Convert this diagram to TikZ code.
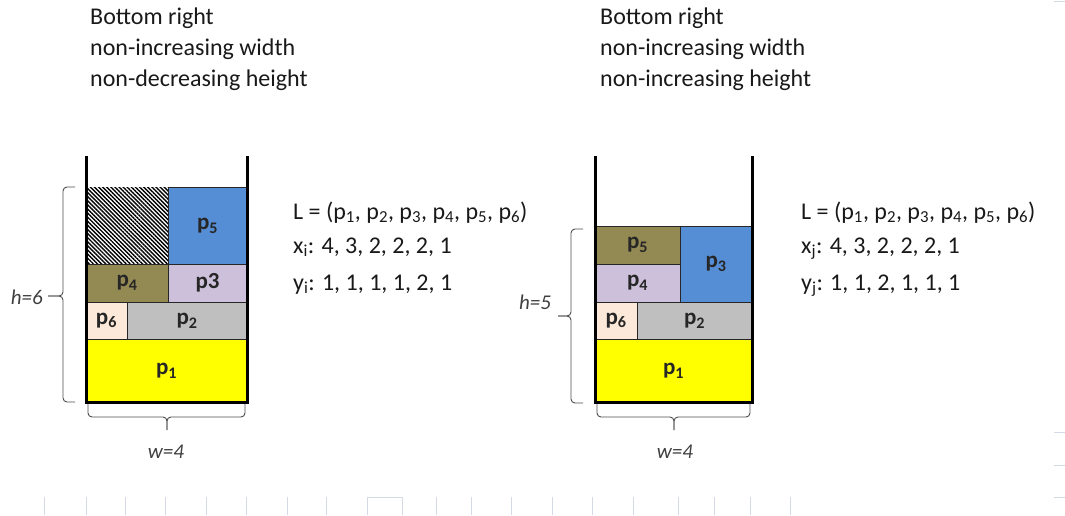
\documentclass[tikz,border=0pt]{standalone}
\usepackage{fontspec}
\setmainfont{Carlito}
\usetikzlibrary{patterns.meta}
\definecolor{cyellow}{HTML}{FFFF00}
\definecolor{cgray}{HTML}{BFBFBF}
\definecolor{cpeach}{HTML}{FDE9D9}
\definecolor{colive}{HTML}{938953}
\definecolor{clilac}{HTML}{CCC0DA}
\definecolor{cblue}{HTML}{558ED5}
\definecolor{cghost}{HTML}{D5D9E6}
\tikzset{
  blk/.style={draw=black!85, line width=0.8pt},
  lbl/.style={font=\fontsize{23}{27}\selectfont\bfseries, text=black!85, inner sep=0pt},
  txt/.style={font=\fontsize{24}{28}\selectfont, text=black!90, anchor=base west, inner sep=0pt},
  wall/.style={line width=3pt, line join=miter},
  brc/.style={draw=black!70, line width=0.9pt, rounded corners=4pt},
  dim/.style={font=\fontsize{21}{25}\selectfont\itshape, text=black!75, inner sep=0pt},
  ghost/.style={draw=cghost, line width=1pt}
}
\newcommand{\pp}[1]{p\textsubscript{#1}}
\begin{document}
\begin{tikzpicture}[x=1pt, y=-1pt]
  \useasboundingbox (0,0) rectangle (1065,515);
  % headings
  \node[txt] (hdA1) at (90,24) {Bottom right};
  \node[txt] (hdA2) at (90,55) {non-increasing width};
  \node[txt] (hdA3) at (90,86) {non-decreasing height};
  \node[txt] (hdB1) at (600,24) {Bottom right};
  \node[txt] (hdB2) at (600,55) {non-increasing width};
  \node[txt] (hdB3) at (600,86) {non-increasing height};
  % left strip: empty part hatched
  \fill[pattern={Lines[angle=-45, distance=2.9pt, line width=1.4pt]}] (86,187) rectangle (168,264);
  \draw[blk, fill=cyellow] (86,339) rectangle (247,402) node[lbl, pos=.5] (la1) {\pp{1}};
  \draw[blk, fill=cpeach] (86,302) rectangle (127,339) node[lbl, pos=.5] (la6) {\pp{6}};
  \draw[blk, fill=cgray] (127,302) rectangle (247,339) node[lbl, pos=.5] (la2) {\pp{2}};
  \draw[blk, fill=colive] (86,264) rectangle (168,302) node[lbl, pos=.5] (la4) {\pp{4}};
  \draw[blk, fill=clilac] (168,264) rectangle (247,302) node[lbl, pos=.5] (la3) {p3};
  \draw[blk, fill=cblue] (168,187) rectangle (247,264) node[lbl, pos=.5] (la5) {\pp{5}};
  \draw[wall] (86,156) -- (86,402) -- (247,402) -- (247,156);
  % right strip
  \draw[blk, fill=cyellow] (595,339) rectangle (752,402) node[lbl, pos=.5] (lb1) {\pp{1}};
  \draw[blk, fill=cpeach] (595,302) rectangle (637,339) node[lbl, pos=.5] (lb6) {\pp{6}};
  \draw[blk, fill=cgray] (637,302) rectangle (752,339) node[lbl, pos=.5] (lb2) {\pp{2}};
  \draw[blk, fill=clilac] (595,264) rectangle (680,302) node[lbl, pos=.5] (lb4) {\pp{4}};
  \draw[blk, fill=colive] (595,226) rectangle (680,264) node[lbl, pos=.5] (lb5) {\pp{5}};
  \draw[blk, fill=cblue] (680,226) rectangle (752,302) node[lbl, pos=.5] (lb3) {\pp{3}};
  \draw[wall] (595,156) -- (595,402) -- (752,402) -- (752,156);
  % braces with h and w
  \draw[brc] (75,187) -- (63,187) -- (63,296) -- (48,296);
  \draw[brc] (75,402) -- (63,402) -- (63,296) -- (48,296);
  \draw[brc] (88,404) -- (88,417) -- (167,417) -- (167,430);
  \draw[brc] (245,404) -- (245,417) -- (167,417) -- (167,430);
  \draw[brc] (583,229) -- (571,229) -- (571,316) -- (558,316);
  \draw[brc] (583,403) -- (571,403) -- (571,316) -- (558,316);
  \draw[brc] (597,404) -- (597,417) -- (674,417) -- (674,430);
  \draw[brc] (750,404) -- (750,417) -- (674,417) -- (674,430);
  \node[dim, anchor=east] (hA) at (43,297) {h=6};
  \node[dim] (wA) at (166,452) {w=4};
  \node[dim] (hB) at (535,302) {h=5};
  \node[dim] (wB) at (675,452) {w=4};
  % item lists
  \node[txt] (lsA1) at (293,219) {L = (\pp{1}, \pp{2}, \pp{3}, \pp{4}, \pp{5}, \pp{6})};
  \node[txt] (lsA2) at (293,253) {x\textsubscript{i}: 4, 3, 2, 2, 2, 1};
  \node[txt] (lsA3) at (293,290) {y\textsubscript{i}: 1, 1, 1, 1, 2, 1};
  \node[txt] (lsB1) at (801,219) {L = (\pp{1}, \pp{2}, \pp{3}, \pp{4}, \pp{5}, \pp{6})};
  \node[txt] (lsB2) at (801,253) {x\textsubscript{j}: 4, 3, 2, 2, 2, 1};
  \node[txt] (lsB3) at (801,290) {y\textsubscript{j}: 1, 1, 2, 1, 1, 1};
  % faint marks along the edges
  \foreach \t in {44,86,125,165,206,246,287,326,436,471,511,552,592,633,678,714,750,790}
    \draw[ghost] (\t,497) -- (\t,515);
  \draw[ghost] (367,515) -- (367,497) -- (402,497) -- (402,515);
  \foreach \t in {1,432,465,497}
    \draw[ghost] (1054,\t) -- (1065,\t);
\end{tikzpicture}
\end{document}
